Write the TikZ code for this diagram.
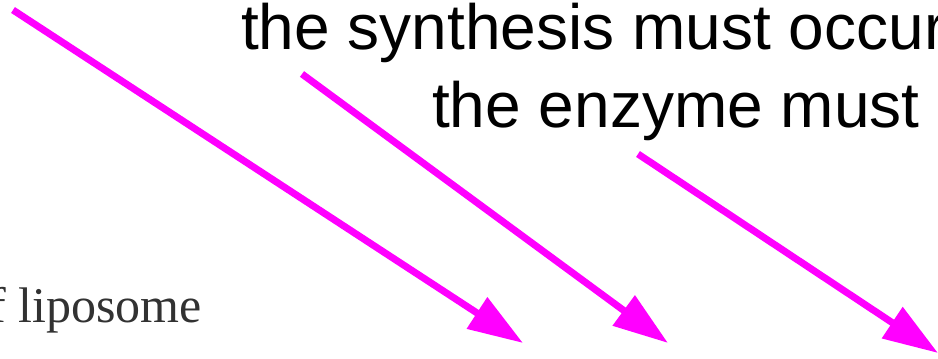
\documentclass[tikz,border=0pt]{standalone}
\usepackage{fontspec}
\setmainfont{Liberation Sans}
\newfontfamily\serifa{Liberation Serif}
\definecolor{fucsia}{RGB}{255,0,255}
\definecolor{grisosc}{RGB}{50,50,50}
\usetikzlibrary{arrows.meta}

\begin{document}
\begin{tikzpicture}[x=1pt,y=1pt,
    flecha/.style={line width=7pt,fucsia,-{Triangle[length=55pt,width=36pt]}},
    rotulo/.style={anchor=base west,inner sep=0pt,font=\fontsize{64}{76}\selectfont}]
      \useasboundingbox (0,0) rectangle (938,359);

      % texts
      \node[rotulo] (sintesis) at (241,309) {the synthesis must occur};
      \node[rotulo] (enzima)   at (432,231) {the enzyme must};
      \node[anchor=base west,inner sep=0pt,text=grisosc,
            font=\serifa\fontsize{50}{60}\selectfont] (liposoma) at (-11,36) {f liposome};

      % arrow ends
      \coordinate (a1) at (13,349);  \coordinate (b1) at (523,16);
      \coordinate (a2) at (302,285); \coordinate (b2) at (668,16);
      \coordinate (a3) at (638,205); \coordinate (b3) at (938,6);

      \draw[flecha] (a1) -- (b1);
      \draw[flecha] (a2) -- (b2);
      \draw[flecha] (a3) -- (b3);
    \end{tikzpicture}
\end{document}
